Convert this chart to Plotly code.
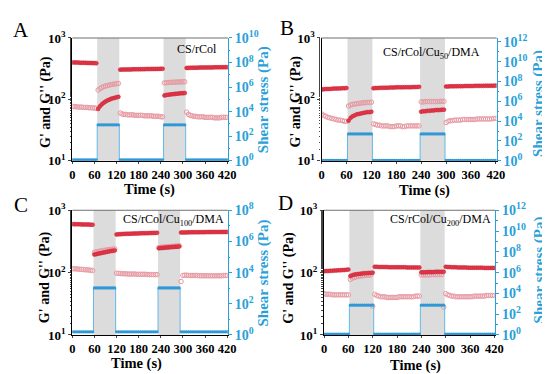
import plotly.graph_objects as go

# ---------------- data ----------------
time_s = [0, 5, 10, 15, 20, 25, 30, 35, 40, 45, 50, 55, 60, 65, 70, 75, 80, 85, 90, 95,
          100, 105, 110, 115, 120, 125, 130, 135, 140, 145, 150, 155, 160, 165, 170, 175,
          180, 185, 190, 195, 200, 205, 210, 215, 220, 225, 230, 235, 240, 245, 250, 255,
          260, 265, 270, 275, 280, 285, 290, 295, 300, 305, 310, 315, 320, 325, 330, 335,
          340, 345, 350, 355, 360, 365, 370, 375, 380, 385, 390, 395, 400, 405, 410, 415, 420]

time_ticks = [0, 60, 120, 180, 240, 300, 360, 420]

modulus_tickvals = [10, 100, 1000]
modulus_ticktext = ["10<sup>1</sup>", "10<sup>2</sup>", "10<sup>3</sup>"]

stress_tickvals = [1, 1e2, 1e4, 1e6, 1e8, 1e10, 1e12]
stress_ticktext = ["10<sup>0</sup>", "10<sup>2</sup>", "10<sup>4</sup>", "10<sup>6</sup>",
                   "10<sup>8</sup>", "10<sup>10</sup>", "10<sup>12</sup>"]

panel_letters = ["A", "B", "C", "D"]
sample_names = ["CS/rCol", "CS/rCol/Cu<sub>50</sub>/DMA",
                "CS/rCol/Cu<sub>100</sub>/DMA", "CS/rCol/Cu<sub>200</sub>/DMA"]

# high-strain windows (s)
shade_A = [[67.5, 127.5], [247.5, 307.5]]
shade_B = [[62.5, 122.5], [237.5, 297.5]]
shade_C = [[57.5, 117.5], [232.5, 292.5]]
shade_D = [[62.5, 122.5], [237.5, 297.5]]

# ---- A : CS/rCol ----
A_Gp = [400, 400, 398, 398, 396, 395, 395, 394, 393, 392, 392, 390, 390, 388,
        70, 77, 83, 88, 92, 96, 99, 102, 104, 106, 108, 110,
        305, 306, 306, 307, 307, 308, 308, 309, 309, 310, 310, 310, 311, 311, 312, 312, 312, 313, 313, 313, 314, 314, 315, 315,
        116, 118, 119, 120, 121, 122, 123, 124, 125, 126, 126, 127,
        325, 326, 327, 328, 328, 329, 329, 330, 330, 331, 331, 331, 332, 332, 332, 333, 333, 333, 334, 334, 334, 335, 335]
A_Gpp = [77, 76, 76, 75, 75, 75, 74, 74, 74, 73, 73, 73, 72, 72,
         142, 150, 156, 161, 165, 168, 171, 174, 176, 178, 180, 182,
         60, 58, 57, 57, 56, 56, 56, 56, 55, 55, 55, 55, 55, 54, 54, 54, 54, 54, 53, 53, 53, 53, 52, 52,
         186, 187, 188, 189, 190, 190, 191, 192, 192, 193, 193, 194,
         62, 57, 55, 54, 53, 53, 52, 52, 52, 52, 51, 51, 51, 51, 51, 50, 50, 50, 50, 51, 51, 51, 51]
A_tau = [1.2, 1.2, 1.2, 1.2, 1.2, 1.2, 1.2, 1.2, 1.2, 1.2, 1.2, 1.2, 1.2, 1.2,
         850, 850, 850, 850, 850, 850, 850, 850, 850, 850, 850, 850,
         1.2, 1.2, 1.2, 1.2, 1.2, 1.2, 1.2, 1.2, 1.2, 1.2, 1.2, 1.2, 1.2, 1.2, 1.2, 1.2, 1.2, 1.2, 1.2, 1.2, 1.2, 1.2, 1.2, 1.2,
         850, 850, 850, 850, 850, 850, 850, 850, 850, 850, 850, 850,
         1.2, 1.2, 1.2, 1.2, 1.2, 1.2, 1.2, 1.2, 1.2, 1.2, 1.2, 1.2, 1.2, 1.2, 1.2, 1.2, 1.2, 1.2, 1.2, 1.2, 1.2, 1.2, 1.2]

# ---- B : CS/rCol/Cu50/DMA ----
B_Gp = [145, 146, 147, 148, 148, 149, 150, 150, 151, 151, 152, 152, 153,
        45, 50, 53, 55, 57, 58, 59, 60, 61, 62, 62, 63,
        152, 153, 153, 154, 154, 155, 155, 155, 156, 156, 156, 157, 157, 157, 157, 158, 158, 158, 158, 159, 159, 159, 160,
        63, 64, 64, 65, 65, 66, 66, 67, 67, 67, 68, 68,
        162, 162, 163, 163, 163, 164, 164, 164, 164, 165, 165, 165, 165, 165, 166, 166, 166, 166, 166, 167, 167, 167, 167, 167, 168]
B_Gpp = [58, 55, 53, 51, 50, 49, 48, 47, 46, 46, 45, 44, 44,
         78, 81, 83, 84, 85, 86, 87, 88, 88, 89, 89, 90,
         40, 39, 38, 38, 37, 37, 37, 37, 36, 36, 36, 37, 37, 37, 36, 36, 37, 37, 37, 37, 37, 37, 37,
         91, 91, 92, 92, 92, 92, 92, 92, 92, 93, 93, 93,
         42, 44, 45, 45, 46, 46, 46, 46, 47, 47, 47, 47, 47, 47, 47, 48, 48, 48, 48, 48, 48, 48, 48, 49, 49]
B_tau = [1.1, 1.1, 1.1, 1.1, 1.1, 1.1, 1.1, 1.1, 1.1, 1.1, 1.1, 1.1, 1.1,
         520, 520, 520, 520, 520, 520, 520, 520, 520, 520, 520, 520,
         1.1, 1.1, 1.1, 1.1, 1.1, 1.1, 1.1, 1.1, 1.1, 1.1, 1.1, 1.1, 1.1, 1.1, 1.1, 1.1, 1.1, 1.1, 1.1, 1.1, 1.1, 1.1, 1.1,
         520, 520, 520, 520, 520, 520, 520, 520, 520, 520, 520, 520,
         1.1, 1.1, 1.1, 1.1, 1.1, 1.1, 1.1, 1.1, 1.1, 1.1, 1.1, 1.1, 1.1, 1.1, 1.1, 1.1, 1.1, 1.1, 1.1, 1.1, 1.1, 1.1, 1.1, 1.1, 1.1]

# ---- C : CS/rCol/Cu100/DMA ----
C_Gp = [600, 598, 597, 596, 595, 594, 593, 592, 591, 590, 588, 586,
        195, 198, 201, 204, 207, 210, 213, 216, 219, 222, 224, 227,
        410, 412, 414, 416, 418, 419, 420, 421, 422, 423, 424, 425, 426, 427, 428, 429, 430, 430, 431, 432, 433, 434, 435,
        246, 248, 249, 251, 252, 254, 255, 257, 258, 260, 261, 263,
        440, 441, 442, 442, 443, 443, 444, 444, 445, 445, 445, 446, 446, 446, 447, 447, 447, 447, 448, 448, 448, 448, 449, 449, 449, 450]
C_Gpp = [116, 115, 115, 114, 113, 113, 112, 111, 111, 110, 109, 108,
         212, 215, 218, 221, 224, 227, 229, 232, 234, 236, 238, 240,
         98, 97, 97, 96, 96, 96, 95, 95, 95, 95, 95, 94, 94, 94, 94, 94, 94, 93, 93, 93, 93, 93, 93,
         252, 254, 256, 258, 259, 261, 262, 264, 265, 266, 268, 269,
         72, 90, 91, 91, 90, 90, 90, 90, 90, 90, 89, 89, 89, 89, 89, 89, 89, 89, 89, 89, 89, 89, 89, 90, 90, 90]
C_tau = [1.6, 1.6, 1.6, 1.6, 1.6, 1.6, 1.6, 1.6, 1.6, 1.6, 1.6, 1.6,
         1050, 1050, 1050, 1050, 1050, 1050, 1050, 1050, 1050, 1050, 1050, 1050,
         1.6, 1.6, 1.6, 1.6, 1.6, 1.6, 1.6, 1.6, 1.6, 1.6, 1.6, 1.6, 1.6, 1.6, 1.6, 1.6, 1.6, 1.6, 1.6, 1.6, 1.6, 1.6, 1.6,
         1050, 1050, 1050, 1050, 1050, 1050, 1050, 1050, 1050, 1050, 1050, 1050,
         1.6, 1.6, 1.6, 1.6, 1.6, 1.6, 1.6, 1.6, 1.6, 1.6, 1.6, 1.6, 1.6, 1.6, 1.6, 1.6, 1.6, 1.6, 1.6, 1.6, 1.6, 1.6, 1.6, 1.6, 1.6, 1.6]

# ---- D : CS/rCol/Cu200/DMA ----
D_Gp = [105, 106, 106, 107, 107, 108, 108, 109, 109, 110, 110, 111, 112,
        88, 91, 93, 94, 95, 96, 97, 98, 98, 99, 99, 100,
        124, 124, 123, 123, 123, 123, 123, 122, 122, 122, 122, 122, 122, 122, 122, 122, 121, 121, 121, 121, 121, 121, 121,
        101, 101, 101, 102, 102, 102, 102, 103, 103, 103, 103, 103,
        124, 123, 123, 122, 122, 122, 121, 121, 121, 121, 121, 120, 120, 120, 120, 120, 120, 120, 120, 119, 119, 119, 119, 119, 119]
D_Gpp = [46, 45, 45, 45, 44, 44, 44, 44, 44, 44, 44, 44, 44,
         78, 82, 84, 86, 87, 88, 89, 90, 91, 91, 92, 29,
         45, 43, 42, 41, 41, 41, 40, 40, 40, 40, 40, 40, 41, 41, 41, 41, 41, 41, 41, 41, 42, 42, 42,
         92, 92, 92, 92, 92, 93, 93, 93, 93, 93, 93, 28,
         46, 44, 43, 42, 42, 41, 41, 41, 41, 41, 41, 41, 41, 41, 42, 42, 42, 42, 42, 42, 43, 43, 43, 43, 43]
D_tau = [1.2, 1.2, 1.2, 1.2, 1.2, 1.2, 1.2, 1.2, 1.2, 1.2, 1.2, 1.2, 1.2,
         730, 730, 730, 730, 730, 730, 730, 730, 730, 730, 730, 730,
         1.2, 1.2, 1.2, 1.2, 1.2, 1.2, 1.2, 1.2, 1.2, 1.2, 1.2, 1.2, 1.2, 1.2, 1.2, 1.2, 1.2, 1.2, 1.2, 1.2, 1.2, 1.2, 1.2,
         730, 730, 730, 730, 730, 730, 730, 730, 730, 730, 730, 730,
         1.2, 1.2, 1.2, 1.2, 1.2, 1.2, 1.2, 1.2, 1.2, 1.2, 1.2, 1.2, 1.2, 1.2, 1.2, 1.2, 1.2, 1.2, 1.2, 1.2, 1.2, 1.2, 1.2, 1.2, 1.2]

# right-axis (shear stress) log ranges, in decades
tau_range_dec = [[0, 10], [0, 12.4], [0, 8], [0, 12]]

# ---------------- styling ----------------
W, H = 550, 374
RED = "#e23a4c"
PINK = "#e79aa3"
BLUE = "#2f98d6"
BLUE_LINE = "#63b9e8"
AX_BLUE = "#2a9fd8"
SERIF = "Liberation Serif, Times New Roman, serif"

# pixel frames of each panel (left, right, top, bottom)
frames = [(62.7, 221.7, 21, 150), (317.5, 496.5, 21, 150),
          (62.7, 221.7, 202, 333), (320, 495, 202, 333)]

panels = [
    (A_Gp, A_Gpp, A_tau, shade_A),
    (B_Gp, B_Gpp, B_tau, shade_B),
    (C_Gp, C_Gpp, C_tau, shade_C),
    (D_Gp, D_Gpp, D_tau, shade_D),
]

fig = go.Figure()
layout = dict(width=W, height=H, margin=dict(l=0, r=0, t=0, b=0),
              paper_bgcolor="white", plot_bgcolor="white", showlegend=False)
shapes = []
annotations = []

def px(x):
    return x / W

def py(y):
    return 1 - y / H

for i, (gp, gpp, tau, shade) in enumerate(panels):
    n = i + 1
    xa = "x" if n == 1 else f"x{n}"
    ya = "y" if n == 1 else f"y{n}"
    ya2 = f"y{n + 4}"
    l, r, t, b = frames[i]

    layout["xaxis" if n == 1 else f"xaxis{n}"] = dict(
        domain=[px(l), px(r)], anchor=ya, range=[0, 422],
        tickvals=time_ticks, ticks="outside", ticklen=2, tickwidth=1,
        showline=True, linecolor="black", linewidth=1.2, showgrid=False, zeroline=False,
        tickfont=dict(family=SERIF, size=12.5, color="black", weight="bold"),
    )
    layout["yaxis" if n == 1 else f"yaxis{n}"] = dict(
        domain=[py(b), py(t)], anchor=xa, type="log", range=[1, 3],
        tickvals=modulus_tickvals, ticktext=modulus_ticktext,
        ticks="outside", ticklen=3, tickwidth=1,
        minor=dict(ticks="outside", ticklen=1.5, tickwidth=0.6, tickcolor="#444444"),
        showline=True, linecolor="black", linewidth=1.2, showgrid=False, zeroline=False,
        tickfont=dict(family=SERIF, size=13, color="black", weight="bold"),
    )
    layout[f"yaxis{n + 4}"] = dict(
        overlaying=ya, anchor=xa, side="right", type="log", range=tau_range_dec[i],
        tickvals=stress_tickvals, ticktext=stress_ticktext,
        ticks="outside", ticklen=3, tickwidth=1, tickcolor=AX_BLUE,
        minor=dict(ticks="outside", ticklen=1.5, tickwidth=0.6, tickcolor=AX_BLUE, dtick=1),
        showline=True, linecolor=AX_BLUE, linewidth=1.2, showgrid=False, zeroline=False,
        tickfont=dict(family=SERIF, size=14, color=AX_BLUE, weight="bold"),
    )

    for s0, s1 in shade:
        shapes.append(dict(type="rect", xref=xa, yref=f"{ya} domain", x0=s0, x1=s1, y0=0, y1=1,
                           fillcolor="#dcdcdc", line=dict(width=0), layer="below"))
    shapes.append(dict(type="line", xref=f"{xa} domain", yref=f"{ya} domain", x0=0, x1=1, y0=1, y1=1,
                       line=dict(color="#707070", width=1)))

    fig.add_trace(go.Scatter(x=time_s, y=gpp, xaxis=xa, yaxis=ya, mode="markers",
                             marker=dict(symbol="circle-open", size=4.5, color=PINK, line=dict(width=1, color=PINK)),
                             name="G''"))
    fig.add_trace(go.Scatter(x=time_s, y=gp, xaxis=xa, yaxis=ya, mode="markers",
                             marker=dict(symbol="circle", size=4, color=RED, line=dict(width=0.5, color="#c82030")),
                             name="G'"))
    fig.add_trace(go.Scatter(x=time_s, y=tau, xaxis=xa, yaxis=ya2, mode="lines+markers",
                             line=dict(color=BLUE_LINE, width=1, shape="hvh"),
                             marker=dict(symbol="circle", size=3.2, color=BLUE),
                             name="Shear stress"))

# panel letters
letter_pos = [(10, 13), (282, 11), (10, 196), (281, 194)]
for letter, (x, y) in zip(panel_letters, letter_pos):
    annotations.append(dict(text=letter, x=px(x), y=py(y), xref="paper", yref="paper",
                            xanchor="center", yanchor="middle", showarrow=False,
                            font=dict(family=SERIF, size=21, color="black")))

# sample names (right edge, centre y)
name_pos = [(213, 33), (481, 37), (220, 212), (493, 212)]
for name, (x, y) in zip(sample_names, name_pos):
    annotations.append(dict(text=name, x=px(x), y=py(y), xref="paper", yref="paper",
                            xanchor="right", yanchor="middle", showarrow=False,
                            font=dict(family=SERIF, size=12, color="black")))

# axis titles
ytitle_pos = [(36, 88), (291, 88), (35, 272), (284, 273)]
y2title_pos = [(259, 86), (539, 90), (258, 268), (540, 265)]
xtitle_pos = [(142, 180), (423, 181), (128, 363), (414, 365)]
for (x, y) in ytitle_pos:
    annotations.append(dict(text="G' and G'' (Pa)", x=px(x), y=py(y), xref="paper", yref="paper",
                            xanchor="center", yanchor="middle", showarrow=False, textangle=-90,
                            font=dict(family=SERIF, size=14, color="black", weight="bold")))
for (x, y) in y2title_pos:
    annotations.append(dict(text="Shear stress (Pa)", x=px(x), y=py(y), xref="paper", yref="paper",
                            xanchor="center", yanchor="middle", showarrow=False, textangle=-90,
                            font=dict(family=SERIF, size=15, color=AX_BLUE, weight="bold")))
for (x, y) in xtitle_pos:
    annotations.append(dict(text="Time (s)", x=px(x), y=py(y), xref="paper", yref="paper",
                            xanchor="center", yanchor="middle", showarrow=False,
                            font=dict(family=SERIF, size=14.5, color="black", weight="bold")))

layout["shapes"] = shapes
layout["annotations"] = annotations
fig.update_layout(**layout)
fig.write_html("out.html")
